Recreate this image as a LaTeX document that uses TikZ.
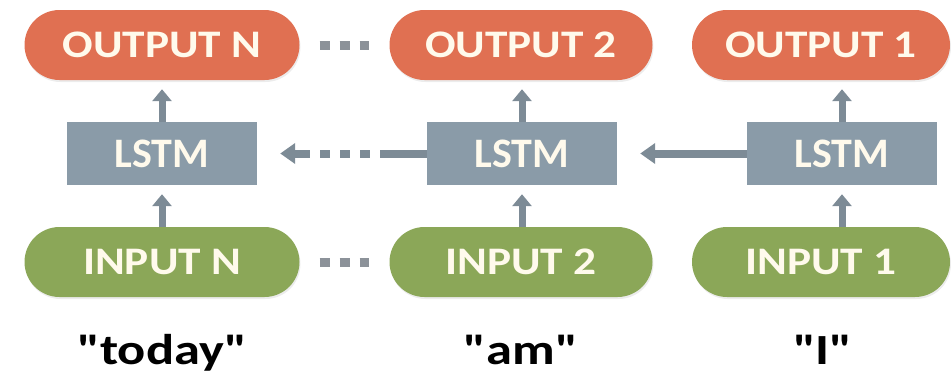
\documentclass[tikz,border=0pt]{standalone}
\usepackage{fontspec}
\setmainfont{Carlito}
\newfontfamily\pillfont{Carlito}[FakeStretch=1.16]
\newfontfamily\wordfont{Carlito}[FakeStretch=1.22]
\usetikzlibrary{arrows.meta}
\usetikzlibrary{shadows}

\definecolor{outorange}{RGB}{224,112,82}
\definecolor{lstmgrey}{RGB}{138,155,168}
\definecolor{ingreen}{RGB}{139,167,88}
\definecolor{arrowgrey}{RGB}{125,139,150}
\definecolor{dotgrey}{RGB}{140,146,153}
\definecolor{labelcream}{RGB}{255,250,236}

\begin{document}
\begin{tikzpicture}[x=1pt,y=-1pt,
		pill/.style={rectangle,rounded corners=35pt,minimum height=70pt,
			text=labelcream,font=\pillfont\bfseries\fontsize{39}{39}\selectfont,
			drop shadow={opacity=0.15,shadow xshift=1pt,shadow yshift=-2pt}},
		out node/.style={pill,fill=outorange},
		in node/.style={pill,fill=ingreen},
		lstm node/.style={rectangle,fill=lstmgrey,minimum width=190pt,minimum height=63pt,
			text=labelcream,font=\bfseries\fontsize{42}{42}\selectfont},
		word/.style={text=black,font=\wordfont\bfseries\fontsize{43}{43}\selectfont},
		up/.style={-{Triangle[width=19pt,length=12pt]},line width=7pt,color=arrowgrey,shorten >=9pt},
		back/.style={-{Triangle[width=20pt,length=15pt]},line width=8pt,color=arrowgrey,shorten >=23pt},
		gap dots/.style={line width=9pt,color=dotgrey,dash pattern=on 10pt off 10pt,
			shorten <=20pt,shorten >=20pt}]

	\useasboundingbox (0,0) rectangle (951,378);

	% outputs
	\node[out node,minimum width=275pt] (outN) at (162,45) {OUTPUT N};
	\node[out node,minimum width=263pt] (out2) at (521,45) {OUTPUT 2};
	\node[out node,minimum width=258pt] (out1) at (821,45) {OUTPUT 1};

	% lstm cells
	\node[lstm node] (lstmN) at (162,153.5) {LSTM};
	\node[lstm node] (lstm2) at (522,153.5) {LSTM};
	\node[lstm node] (lstm1) at (842,153.5) {LSTM};

	% inputs
	\node[in node,minimum width=275pt] (inN) at (162,262) {INPUT N};
	\node[in node,minimum width=263pt] (in2) at (521,262) {INPUT 2};
	\node[in node,minimum width=258pt] (in1) at (821,262) {INPUT 1};

	% words
	\node[word,anchor=base] (wN) at (162,364) {"today"};
	\node[word,anchor=base] (w2) at (521,364) {"am"};
	\node[word,anchor=base] (w1) at (823,364) {"I"};

	% vertical arrows
	\draw[up] (lstmN.north) -- (lstmN.north |- outN.south);
	\draw[up] (lstm2.north) -- (lstm2.north |- out2.south);
	\draw[up] (lstm1.north) -- (lstm1.north |- out1.south);
	\draw[up] (lstmN.south |- inN.north) -- (lstmN.south);
	\draw[up] (lstm2.south |- in2.north) -- (lstm2.south);
	\draw[up] (lstm1.south |- in1.north) -- (lstm1.south);

	% recurrent arrows
	\draw[back] (lstm1.west) -- (lstm2.east);
	\draw[back,dash pattern=on 47pt off 10pt on 10pt off 10pt on 10pt off 10pt on 10pt off 10pt]
		(lstm2.west) -- (lstmN.east);

	% skipped steps
	\draw[gap dots] (outN.east) -- (out2.west);
	\draw[gap dots] (inN.east) -- (in2.west);

\end{tikzpicture}
\end{document}
